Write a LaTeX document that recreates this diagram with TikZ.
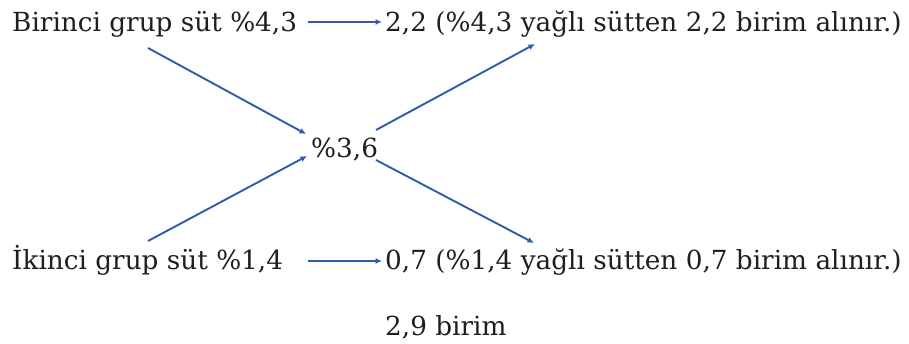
\documentclass[tikz,border=0pt]{standalone}
\usepackage{fontspec}
\setmainfont{DejaVu Serif}
\usetikzlibrary{arrows.meta}
\definecolor{arrowblue}{RGB}{46,92,170}
\tikzset{
  lbl/.style={inner sep=0pt, anchor=base west, font=\fontsize{26.3}{30}\selectfont, text=black!88},
  conn/.style={draw=arrowblue, line width=1.9pt, -{Latex[length=6.5pt,width=6pt]}}
}
\begin{document}
\begin{tikzpicture}[x=1pt,y=-1pt]
\useasboundingbox (0,0) rectangle (909,344);
\node[lbl] (b1) at (12,32) {Birinci grup süt \%4,3};
\node[lbl] (b2) at (385,32) {2,2 (\%4,3 yağlı sütten 2,2 birim alınır.)};
\node[lbl] (m) at (311,158) {\%3,6};
\node[lbl] (k1) at (12,270) {İkinci grup süt \%1,4};
\node[lbl] (k2) at (385,270) {0,7 (\%1,4 yağlı sütten 0,7 birim alınır.)};
\node[lbl] (t) at (385,335) {2,9 birim};
\coordinate (a1s) at (308,22);
\coordinate (a1e) at (382,22);
\coordinate (a2s) at (308,261);
\coordinate (a2e) at (382,261);
\coordinate (d1s) at (148,48);
\coordinate (d1e) at (306,134);
\coordinate (d2s) at (148,241);
\coordinate (d2e) at (307,156);
\coordinate (d3s) at (376,130);
\coordinate (d3e) at (535,44);
\coordinate (d4s) at (376,160);
\coordinate (d4e) at (534,243);
\draw[conn] (a1s) -- (a1e);
\draw[conn] (a2s) -- (a2e);
\draw[conn] (d1s) -- (d1e);
\draw[conn] (d2s) -- (d2e);
\draw[conn] (d3s) -- (d3e);
\draw[conn] (d4s) -- (d4e);
\end{tikzpicture}
\end{document}
